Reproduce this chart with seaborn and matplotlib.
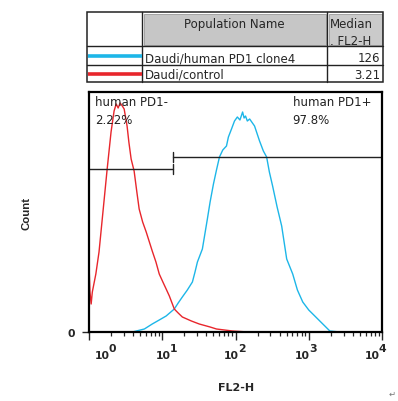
import pandas as pd
import seaborn as sns
import matplotlib.pyplot as plt
from matplotlib.patches import Rectangle

sns.set_style("ticks")
plt.rcParams['font.family'] = ['DejaVu Sans']
# ----------------------------------------------------------------------------------------------------------------------

# Histogram values (FL2-H channel vs event count)
red_fl2 = [1.00, 1.03, 1.07, 1.11, 1.24, 1.37, 1.55, 1.77, 2.00, 2.20, 2.35, 2.50, 2.66, 2.85, 3.02, 3.31, 3.50,
           3.76, 4.13, 4.50, 4.84, 5.40, 6.04, 7.30, 8.20, 9.10, 10.2, 11.3, 12.5, 14.6, 16.5, 18.8, 25.0, 32.0,
           45.0, 55.0, 91.0, 150.0, 10000.0]
red_count = [68, 40, 28, 40, 58, 80, 120, 163, 200, 221, 228, 224, 229, 226, 223, 206, 190,
             173, 161, 140, 123, 110, 100, 81, 70, 58, 50, 43, 36, 23, 19, 15, 11, 8,
             5, 3, 1, 0, 0]

blue_fl2 = [1.0, 3.9, 5.7, 7.3, 9.1, 11.3, 14.6, 16.5, 18.8, 22.0, 25.8, 28.0, 30.2, 35.3, 41.3, 45.0, 50.0, 55.0,
            60.4, 67.0, 75.3, 80.0, 88.2, 96.9, 106.0, 115.0, 125.0, 131.0, 137.0, 145.0, 156.0, 182.0, 213.0,
            240.0, 266.0, 290.0, 321.0, 370.0, 427.0, 500.0, 604.0, 700.0, 828.0, 1000.0, 1135.0, 1556.0, 1941.0,
            2660.0, 10000.0]
blue_count = [0, 0, 3, 8, 12, 16, 23, 29, 35, 42, 50, 60, 70, 83, 113, 130, 148, 162,
              175, 182, 186, 195, 203, 211, 215, 212, 220, 214, 216, 211, 213, 206, 191,
              181, 175, 160, 146, 125, 106, 73, 58, 42, 30, 22, 18, 8, 1,
              0, 0]

sample_names = ["Daudi/human PD1 clone4", "Daudi/control"]
sample_colors = ["#1db6e8", "#e8262c"]
median_fl2 = ["126", "3.21"]

gate_names = ["human PD1-", "human PD1+"]
gate_pcts = ["2.22%", "97.8%"]
gate_split = 14.1
gate_levels = [163, 175]

decades = [0, 1, 2, 3, 4]
# ----------------------------------------------------------------------------------------------------------------------

df = pd.concat([
    pd.DataFrame({"FL2-H": blue_fl2, "Count": blue_count, "sample": sample_names[0]}),
    pd.DataFrame({"FL2-H": red_fl2, "Count": red_count, "sample": sample_names[1]}),
], ignore_index=True)

fig = plt.figure(figsize=(3.98, 4.02), dpi=100)

# Table overlay drawn in pixel units
tax = fig.add_axes([0, 0, 1, 1])
tax.set_xlim(0, 398)
tax.set_ylim(402, 0)
tax.set_axis_off()

col_x = [87, 142, 327, 383]
row_y = [13, 47, 66, 83]
tax.add_patch(Rectangle((col_x[1] + 1.5, row_y[0] + 1.5), col_x[2] - col_x[1] - 3, row_y[1] - row_y[0] - 3,
                        fc="#c6c6c6", ec="#999999", lw=0.6))
tax.add_patch(Rectangle((col_x[2] + 1.5, row_y[0] + 1.5), col_x[3] - col_x[2] - 3, row_y[1] - row_y[0] - 3,
                        fc="#cacaca", ec="#999999", lw=0.6))
tax.add_patch(Rectangle((col_x[0], row_y[0]), col_x[3] - col_x[0], row_y[3] - row_y[0],
                        fill=False, ec="#222222", lw=1.1))
for yy in row_y[1:3]:
    tax.plot([col_x[0], col_x[3]], [yy, yy], color="#222222", lw=1.0)
for xx in col_x[1:3]:
    tax.plot([xx, xx], [row_y[0], row_y[3]], color="#222222", lw=1.0)

tax.text((col_x[1] + col_x[2]) / 2, 28, "Population Name", ha="center", va="baseline", fontsize=8.5)
tax.text(col_x[2] + 3, 28, "Median", ha="left", va="baseline", fontsize=8.5)
tax.text(col_x[2] + 3, 45, ". FL2-H", ha="left", va="baseline", fontsize=8.5)

for i, (name, color, med) in enumerate(zip(sample_names, sample_colors, median_fl2)):
    mid = (row_y[i + 1] + row_y[i + 2]) / 2
    tax.plot([col_x[0] + 0.5, col_x[1]], [mid, mid], color=color, lw=2.6, solid_capstyle="butt")
    tax.text(col_x[1] + 3, row_y[i + 2] - 4, name, ha="left", va="baseline", fontsize=8.5)
    tax.text(col_x[3] - 3, row_y[i + 2] - 4, med, ha="right", va="baseline", fontsize=8.5)

tax.text(392, 394, "\u21b5", ha="center", va="center", fontsize=6, color="#777777")

# Histogram axes
ax = fig.add_axes([89 / 398, 69 / 402, 293 / 398, 240 / 402])
sns.lineplot(data=df, x="FL2-H", y="Count", hue="sample", palette=dict(zip(sample_names, sample_colors)),
             estimator=None, legend=False, lw=1.0, ax=ax)

ax.set_xscale("log")
ax.set_xlim(1, 1e4)
ax.set_ylim(0, 240)

# Gates
ax.plot([1, gate_split], [gate_levels[0]] * 2, color="#222222", lw=1.0)
ax.plot([gate_split] * 2, [gate_levels[0] - 5, gate_levels[0] + 5], color="#222222", lw=1.0)
ax.plot([gate_split, 1e4], [gate_levels[1]] * 2, color="#222222", lw=1.0)
ax.plot([gate_split] * 2, [gate_levels[1] - 5, gate_levels[1] + 5], color="#222222", lw=1.0)

ax.text(0.02, 0.946, gate_names[0], transform=ax.transAxes, fontsize=8.5, va="baseline", color="#222222")
ax.text(0.02, 0.871, gate_pcts[0], transform=ax.transAxes, fontsize=8.5, va="baseline", color="#222222")
ax.text(0.696, 0.946, gate_names[1], transform=ax.transAxes, fontsize=8.5, va="baseline", color="#222222")
ax.text(0.693, 0.871, gate_pcts[1], transform=ax.transAxes, fontsize=8.5, va="baseline", color="#222222")

# Spines and ticks
for sp in ax.spines.values():
    sp.set_visible(True)
    sp.set_linewidth(1.6)
    sp.set_color("black")

ax.tick_params(axis="x", which="major", length=6, width=1.0, direction="out", labelbottom=False)
ax.tick_params(axis="x", which="minor", length=3, width=0.9, direction="out", labelbottom=False)
ax.set_yticks([0])
ax.set_yticklabels(["0"], fontsize=7.8, fontweight="bold")
ax.tick_params(axis="y", length=5, width=1.0, direction="out", pad=5)

# Decade labels drawn as 10 with a full-size exponent, as in the reference
label_shift = [17, 5, 0, -2, -6]
for d, sh in zip(decades, label_shift):
    ax.annotate("10", xy=(10.0 ** d, 0), xycoords=("data", "axes fraction"), xytext=(sh - 4, -26),
                textcoords="offset pixels", ha="center", va="baseline", fontsize=7.8, fontweight="bold",
                annotation_clip=False)
    ax.annotate(str(d), xy=(10.0 ** d, 0), xycoords=("data", "axes fraction"), xytext=(sh + 6.5, -19),
                textcoords="offset pixels", ha="center", va="baseline", fontsize=7.8, fontweight="bold",
                annotation_clip=False)

ax.set_xlabel("FL2-H", fontsize=8, fontweight="bold")
ax.xaxis.set_label_coords(0.502, -0.208)
ax.set_ylabel("Count", fontsize=8.2, fontweight="bold", family=["Liberation Sans", "DejaVu Sans"])
ax.yaxis.set_label_coords(-0.195, 0.5)

fig.savefig("out.png", dpi=100)
